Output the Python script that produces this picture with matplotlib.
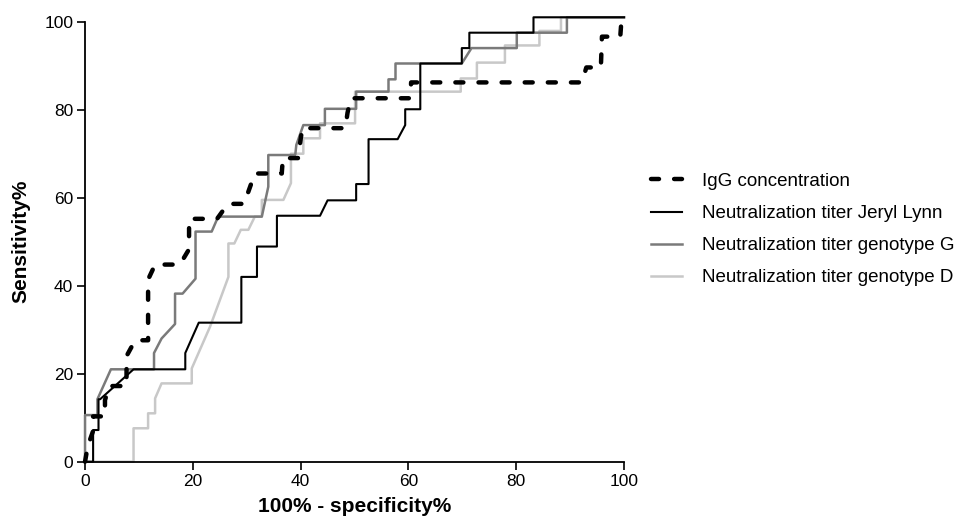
import matplotlib.pyplot as plt

plt.rcParams['font.family'] = ['Liberation Sans', 'DejaVu Sans']

# ROC curves (100% - specificity%, sensitivity%)
igg_x = [0, 0.5, 1.5, 1.5, 3.7, 3.7, 4.5, 7.7, 7.7, 9.3, 11.7, 11.7, 13.0, 17.6, 19.3, 19.3,
         24.5, 26.5, 29.5, 31.5, 36.5, 36.7, 39.5, 40.3, 48.3, 48.7, 49.3, 60.3, 60.5,
         92.2, 93.0, 95.7, 95.9, 99.3, 99.5, 100]
igg_y = [0, 3.5, 7.0, 10.3, 10.3, 14.0, 17.2, 17.2, 24.0, 27.6, 27.6, 41.4, 44.8, 44.8, 48.3, 55.2,
         55.2, 58.6, 58.6, 65.5, 65.5, 69.0, 69.0, 75.8, 75.8, 79.3, 82.6, 82.6, 86.2,
         86.2, 89.6, 89.6, 96.6, 96.6, 100, 100]

jl_x = [0, 1.5, 1.5, 2.5, 2.5, 2.8, 9.0, 18.6, 18.6, 21.1, 29.0, 29.0, 31.9, 31.9, 35.6, 35.6,
        43.6, 45.0, 50.3, 50.3, 52.6, 52.6, 58.0, 59.4, 59.4, 62.2, 62.2, 69.9, 69.9,
        71.3, 71.3, 83.2, 83.2, 100]
jl_y = [0, 0, 7.2, 7.2, 14.2, 14.2, 21.0, 21.0, 24.7, 31.6, 31.6, 42.0, 42.0, 48.9, 48.9, 55.9,
        55.9, 59.4, 59.4, 63.1, 63.1, 73.3, 73.3, 76.5, 80.1, 80.1, 90.5, 90.5, 94.0,
        94.0, 97.5, 97.5, 101, 101]

gg_x = [0, 0, 2.3, 2.3, 4.8, 12.8, 12.8, 14.2, 16.7, 16.7, 18.1, 20.5, 20.5, 23.5, 24.7,
        32.8, 34.0, 34.0, 39.0, 39.2, 40.5, 44.5, 44.5, 50.3, 50.3, 56.3, 56.3, 57.6, 57.6,
        69.9, 71.7, 80.1, 80.1, 89.4, 89.4, 100]
gg_y = [0, 10.6, 10.6, 14.2, 21.0, 21.0, 24.7, 28.0, 31.3, 38.2, 38.2, 41.6, 52.3, 52.3, 55.7,
        55.7, 62.5, 69.7, 69.7, 72.0, 76.5, 76.5, 80.2, 80.2, 84.1, 84.1, 86.9, 86.9, 90.5,
        90.5, 94.0, 94.0, 97.5, 97.5, 101, 101]

gd_x = [0, 9.0, 9.0, 11.7, 11.7, 13.0, 13.0, 14.2, 19.8, 19.8, 23.2, 26.6, 26.6, 27.7, 28.9,
        30.3, 31.5, 32.8, 32.8, 36.8, 38.2, 38.2, 40.5, 40.5, 43.6, 43.6, 50.1, 50.1,
        69.7, 69.7, 72.7, 72.7, 77.9, 77.9, 84.3, 84.3, 88.3, 88.3, 100]
gd_y = [0, 0, 7.6, 7.6, 11.0, 11.0, 14.4, 17.8, 17.8, 21.2, 30.7, 42.0, 49.6, 49.6, 52.7,
        52.7, 55.7, 55.7, 59.5, 59.5, 63.3, 70.0, 70.0, 73.5, 73.5, 76.9, 76.9, 84.1,
        84.1, 87.1, 87.1, 90.7, 90.7, 94.6, 94.6, 97.9, 97.9, 101, 101]

labels = ['IgG concentration', 'Neutralization titer Jeryl Lynn',
          'Neutralization titer genotype G', 'Neutralization titer genotype D']
ticks = [0, 20, 40, 60, 80, 100]

fig = plt.figure(figsize=(9.74, 5.29), dpi=100)
ax = fig.add_axes([0.0873, 0.1272, 0.5534, 0.8318])

ax.plot(gd_x, gd_y, color='#c8c8c8', lw=1.8, clip_on=False, label=labels[3], zorder=2)
ax.plot(gg_x, gg_y, color='#7a7a7a', lw=1.8, clip_on=False, label=labels[2], zorder=3)
ax.plot(jl_x, jl_y, color='black', lw=1.5, clip_on=False, label=labels[1], zorder=4)
ax.plot(igg_x, igg_y, color='black', lw=3.2, ls=(0, (1.8, 3.4)), dash_capstyle='round',
        clip_on=False, label=labels[0], zorder=5)

ax.set_xlim(0, 100)
ax.set_ylim(0, 100)
ax.set_xticks(ticks)
ax.set_yticks(ticks)
ax.tick_params(direction='out', length=5.5, width=1.2, labelsize=12.5, pad=3)
for side in ['top', 'right']:
    ax.spines[side].set_visible(False)
for side in ['left', 'bottom']:
    ax.spines[side].set_linewidth(1.3)

ax.set_xlabel('100% - specificity%', fontsize=15, fontweight='bold', labelpad=6)
ax.set_ylabel('Sensitivity%', fontsize=15, fontweight='bold', labelpad=10)

handles, labs = ax.get_legend_handles_labels()
order = [3, 2, 1, 0]
fig.legend([handles[i] for i in order], [labs[i] for i in order],
           loc='center left', bbox_to_anchor=(0.668, 0.566), frameon=False,
           fontsize=13.5, handlelength=1.65, handletextpad=1.1, labelspacing=0.8,
           borderpad=0, borderaxespad=0)

fig.savefig('out.png', dpi=100)
